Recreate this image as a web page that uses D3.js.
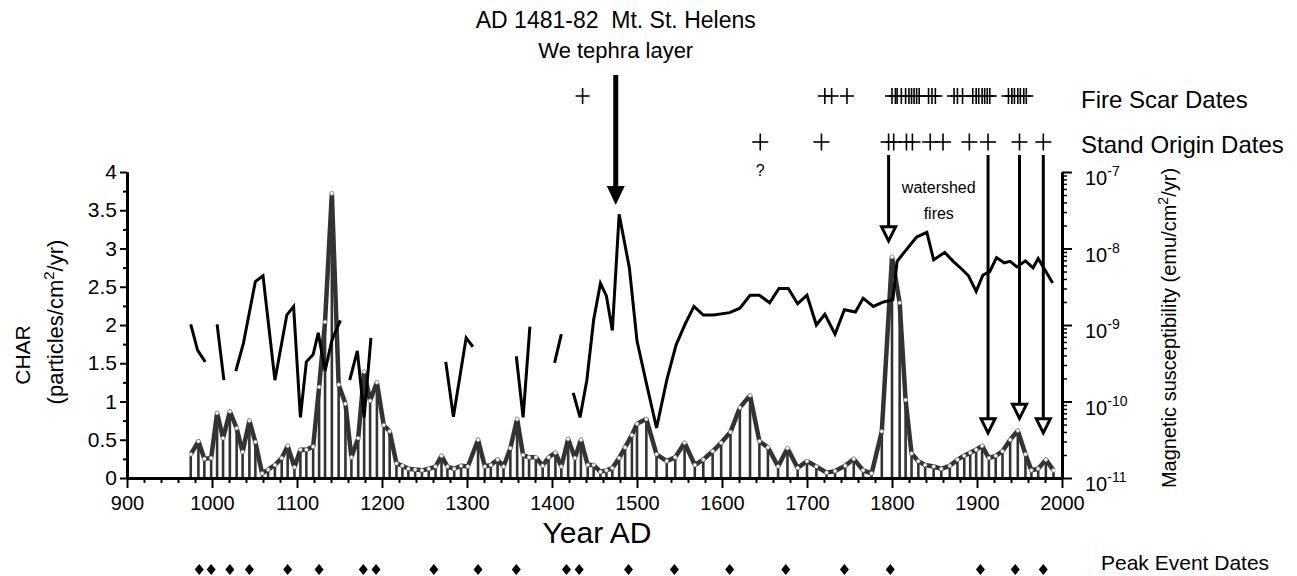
<!DOCTYPE html>
<html>
<head>
<meta charset="utf-8">
<script src="https://cdn.jsdelivr.net/npm/d3@7"></script>
<style>
body { margin: 0; background: #fff; }
text { font-family: "Liberation Sans", Arial, sans-serif; fill: #000; }
</style>
</head>
<body>
<script>
// charcoal accumulation (CHAR), particles/cm2/yr
var charYears = [975, 984, 991, 999, 1006, 1013, 1021, 1029, 1036, 1044, 1051, 1059, 1066, 1074, 1082, 1089, 1097, 1104, 1111, 1119,
	1126, 1133, 1141, 1149, 1157, 1164, 1172, 1179, 1186, 1194, 1202, 1209, 1217, 1224, 1231, 1239, 1247, 1255, 1263, 1270,
	1277, 1285, 1293, 1301, 1313, 1321, 1328, 1336, 1343, 1351, 1359, 1366, 1373, 1381, 1389, 1396, 1404, 1411, 1419, 1427,
	1434, 1442, 1449, 1457, 1464, 1471, 1479, 1486, 1494, 1500, 1511, 1523, 1535, 1545, 1556, 1568, 1578, 1589, 1599, 1610,
	1621, 1633, 1644, 1654, 1666, 1677, 1689, 1700, 1711, 1723, 1733, 1745, 1755, 1766, 1776, 1788, 1800, 1809, 1816, 1823,
	1831, 1839, 1849, 1858, 1868, 1877, 1885, 1892, 1899, 1906, 1914, 1922, 1930, 1939, 1948, 1957, 1964, 1972, 1981, 1990];
var charValues = [0.31, 0.48, 0.25, 0.26, 0.85, 0.52, 0.87, 0.65, 0.34, 0.75, 0.47, 0.06, 0.11, 0.17, 0.26, 0.42, 0.14, 0.37, 0.37, 0.41,
	1.19, 2.04, 3.72, 1.22, 0.97, 0.27, 0.52, 1.39, 1.01, 1.25, 0.69, 0.61, 0.19, 0.16, 0.12, 0.11, 0.10, 0.12, 0.15, 0.29,
	0.15, 0.12, 0.16, 0.15, 0.50, 0.15, 0.17, 0.24, 0.15, 0.39, 0.77, 0.30, 0.27, 0.27, 0.16, 0.27, 0.33, 0.15, 0.51, 0.26,
	0.50, 0.17, 0.17, 0.08, 0.10, 0.13, 0.26, 0.40, 0.56, 0.71, 0.77, 0.31, 0.22, 0.27, 0.46, 0.17, 0.24, 0.35, 0.46, 0.60,
	0.92, 1.08, 0.48, 0.40, 0.15, 0.39, 0.13, 0.22, 0.15, 0.07, 0.09, 0.16, 0.25, 0.10, 0.06, 0.61, 2.89, 2.29, 1.02, 0.32,
	0.22, 0.17, 0.15, 0.12, 0.16, 0.24, 0.29, 0.33, 0.37, 0.42, 0.26, 0.29, 0.35, 0.50, 0.62, 0.31, 0.10, 0.12, 0.24, 0.10];

// magnetic susceptibility, emu/cm2/yr (null = break in record)
var magYears = [975, 983, 992, 999, 1006, 1014, 1021, 1028, 1037, 1051, 1060, 1074, 1088, 1096, 1104, 1111, 1119, 1125, 1133, 1141, 1151,
	1156, 1162, 1171, 1179, 1187, 1230, 1275, 1284, 1299, 1307, 1330, 1358, 1366, 1374, 1390, 1403, 1411, 1418,
	1425, 1433, 1441, 1449, 1457, 1464, 1471, 1479, 1491, 1500, 1511, 1523, 1535, 1546, 1557, 1567, 1578, 1590, 1609, 1621,
	1633, 1644, 1656, 1667, 1678, 1689, 1700, 1711, 1721, 1733, 1744, 1757, 1766, 1778, 1790, 1801, 1806, 1815, 1829, 1841,
	1849, 1862, 1872, 1882, 1890, 1899, 1907, 1915, 1923, 1932, 1939, 1947, 1957, 1966, 1972, 1980, 1989];
var magValues = [1.02e-9, 4.7e-10, 3.3e-10, null, 1.02e-9, 1.9e-10, null, 2.5e-10, 5.8e-10, 3.7e-9, 4.4e-9, 1.9e-10, 1.35e-9, 1.75e-9, 6.2e-11, 3.3e-10, 4.1e-10, 7.9e-10, 2.5e-10, 6.3e-10, 1.15e-9,
	null, 1.9e-10, 4.6e-10, 6.2e-11, 6.8e-10, null, 3.3e-10, 6.3e-11, 6.8e-10, 5.2e-10, null, 3.9e-10, 6.2e-11, 9.5e-10, null, 3.2e-10, 7.6e-10, null,
	1.3e-10, 6.2e-11, 1.9e-10, 1.17e-9, 3.5e-9, 2.4e-9, 8.5e-10, 2.8e-8, 5.6e-9, 6.2e-10, 1.74e-10, 4.5e-11, 1.9e-10, 5.5e-10, 1.05e-9, 1.75e-9, 1.35e-9, 1.35e-9, 1.45e-9, 1.66e-9,
	2.45e-9, 2.45e-9, 1.95e-9, 3.0e-9, 3.0e-9, 1.9e-9, 2.45e-9, 1.0e-9, 1.38e-9, 7.6e-10, 1.58e-9, 1.48e-9, 2.24e-9, 1.75e-9, 2.0e-9, 2.14e-9, 6.8e-9, 9.1e-9, 1.41e-8, 1.62e-8,
	7.1e-9, 8.9e-9, 6.8e-9, 5.4e-9, 4.4e-9, 2.75e-9, 4.5e-9, 5.0e-9, 7.6e-9, 6.5e-9, 6.8e-9, 5.75e-9, 6.9e-9, 5.6e-9, 7.4e-9, 5.25e-9, 3.55e-9];

var fireScarYears = [1436, 1721, 1729, 1747, 1800, 1804, 1806, 1811, 1816, 1820, 1823, 1826, 1829, 1832, 1843, 1847, 1851,
	1873, 1877, 1883, 1895, 1899, 1902, 1906, 1909, 1912, 1915, 1937, 1941, 1944, 1948, 1951, 1955, 1958];
var standOriginYears = [1645, 1717, 1796, 1802, 1817, 1824, 1845, 1860, 1891, 1913, 1950, 1978];
var peakEventYears = [985, 999, 1021, 1044, 1089, 1126, 1178, 1193, 1261, 1313, 1358, 1417, 1432, 1490,
	1544, 1609, 1675, 1744, 1798, 1904, 1945, 1978];

// arrows: years and the CHAR level their heads point to
var arrowYears = [1796, 1913, 1950, 1978];
var arrowTips = [3.1, 0.59, 0.78, 0.59];
var tephraYear = 1475, tephraTip = 3.57;

var xTicks = d3.range(900, 2001, 100);
var yTicks = d3.range(0, 4.01, 0.5);
var magTicks = [1e-11, 1e-10, 1e-9, 1e-8, 1e-7];

var svg = d3.select("body").append("svg")
	.attr("width", 1297)
	.attr("height", 576);

var x = d3.scaleLinear().domain([900, 2000]).range([127, 1062]);
var y = d3.scaleLinear().domain([0, 4]).range([478, 172]);
var yMag = d3.scaleLog().domain([1e-11, 1e-7]).range([478, 172]);

// CHAR bars
svg.append("g").selectAll("line")
	.data(charYears)
	.enter().append("line")
	.attr("x1", d => x(d)).attr("x2", d => x(d))
	.attr("y1", y(0))
	.attr("y2", (d, i) => y(charValues[i]))
	.attr("stroke", "#333")
	.attr("stroke-width", 2.6);

var charData = d3.zip(charYears, charValues);
svg.append("path")
	.datum(charData)
	.attr("d", d3.line().x(d => x(d[0])).y(d => y(d[1])))
	.attr("fill", "none")
	.attr("stroke", "#333")
	.attr("stroke-width", 4.5)
	.attr("stroke-linejoin", "round");

svg.append("g").selectAll("circle")
	.data(charData)
	.enter().append("circle")
	.attr("cx", d => x(d[0]))
	.attr("cy", d => y(d[1]))
	.attr("r", 1.8)
	.attr("fill", "#fff")
	.attr("stroke", "#aaa")
	.attr("stroke-width", 0.7);

// magnetic susceptibility
svg.append("path")
	.datum(d3.zip(magYears, magValues))
	.attr("d", d3.line().defined(d => d[1] != null).x(d => x(d[0])).y(d => yMag(d[1])))
	.attr("fill", "none")
	.attr("stroke", "#000")
	.attr("stroke-width", 3);

// axes
function styleAxis(g, lw) {
	g.select(".domain").attr("stroke", "#000").attr("stroke-width", 3);
	g.selectAll(".tick line").attr("stroke", "#000").attr("stroke-width", lw);
	g.selectAll(".tick text").attr("font-size", 20).attr("font-family", "Liberation Sans, Arial, sans-serif").attr("fill", "#000");
}

svg.append("g")
	.attr("transform", "translate(0," + y(0) + ")")
	.call(d3.axisBottom(x).tickValues(d3.range(900, 2000, 20).filter(d => d % 100)).tickSize(5).tickSizeOuter(0).tickFormat(""))
	.call(g => styleAxis(g, 2));
svg.append("g")
	.attr("transform", "translate(0," + y(0) + ")")
	.call(d3.axisBottom(x).tickValues(xTicks).tickSize(10).tickSizeOuter(0).tickPadding(8).tickFormat(d3.format("d")))
	.call(g => styleAxis(g, 2));

svg.append("g")
	.attr("transform", "translate(" + x(900) + ",0)")
	.call(d3.axisLeft(y).tickValues(d3.range(0.25, 4, 0.5)).tickSize(4).tickSizeOuter(0).tickFormat(""))
	.call(g => styleAxis(g, 2));
svg.append("g")
	.attr("transform", "translate(" + x(900) + ",0)")
	.call(d3.axisLeft(y).tickValues(yTicks).tickSize(7).tickSizeOuter(0).tickPadding(3).tickFormat(d3.format("~g")))
	.call(g => styleAxis(g, 2))
	.call(g => g.selectAll(".tick text").attr("font-size", 21));

var magMinor = [];
[-11, -10, -9, -8].forEach(e => d3.range(2, 10).forEach(k => magMinor.push(k * Math.pow(10, e))));
svg.append("g")
	.attr("transform", "translate(" + x(2000) + ",0)")
	.call(d3.axisRight(yMag).tickValues(magMinor).tickSize(5).tickSizeOuter(0).tickFormat(""))
	.call(g => styleAxis(g, 1.5));
svg.append("g")
	.attr("transform", "translate(" + x(2000) + ",0)")
	.call(d3.axisRight(yMag).tickValues(magTicks).tickSize(10).tickSizeOuter(0).tickFormat(""))
	.call(g => styleAxis(g, 2));

var magLab = svg.append("g").selectAll("text")
	.data(magTicks)
	.enter().append("text")
	.attr("x", x(2000) + 23)
	.attr("y", d => yMag(d) + 13)
	.attr("font-size", 20);
magLab.append("tspan").text("10");
magLab.append("tspan").attr("dy", -9).attr("font-size", 14).text(d => Math.round(Math.log10(d)));

// axis titles
svg.append("text")
	.attr("x", 597).attr("y", 543)
	.attr("text-anchor", "middle")
	.attr("font-size", 30)
	.text("Year AD");

svg.append("text")
	.attr("transform", "translate(30,355) rotate(-90)")
	.attr("text-anchor", "middle")
	.attr("font-size", 21)
	.text("CHAR");
var charTitle = svg.append("text")
	.attr("transform", "translate(63,322) rotate(-90)")
	.attr("text-anchor", "middle")
	.attr("font-size", 22);
charTitle.append("tspan").text("(particles/cm");
charTitle.append("tspan").attr("dy", -9).attr("font-size", 15).text("2");
charTitle.append("tspan").attr("dy", 9).text("/yr)");

var magTitle = svg.append("text")
	.attr("transform", "translate(1176,328) rotate(-90)")
	.attr("text-anchor", "middle")
	.attr("font-size", 20);
magTitle.append("tspan").text("Magnetic susceptibility (emu/cm");
magTitle.append("tspan").attr("dy", -8).attr("font-size", 14).text("2");
magTitle.append("tspan").attr("dy", 8).text("/yr)");

// tephra annotation
svg.append("text").attr("x", x(tephraYear)).attr("y", 28).attr("text-anchor", "middle").attr("font-size", 23)
	.text("AD 1481-82\u00a0\u00a0Mt. St. Helens");
svg.append("text").attr("x", x(tephraYear)).attr("y", 58).attr("text-anchor", "middle").attr("font-size", 22)
	.text("We tephra layer");
svg.append("line")
	.attr("x1", x(tephraYear)).attr("x2", x(tephraYear))
	.attr("y1", 75).attr("y2", y(tephraTip) - 14)
	.attr("stroke", "#000").attr("stroke-width", 5);
svg.append("path")
	.attr("d", "M" + (x(tephraYear) - 9) + "," + (y(tephraTip) - 19) + "h18l-9," + 19 + "z")
	.attr("fill", "#000");

// fire scar and stand origin dates
function plus(g, years, cy, h, w) {
	var p = g.selectAll("g").data(years).enter().append("g")
		.attr("transform", d => "translate(" + x(d) + "," + cy + ")");
	p.append("line").attr("x1", 0).attr("x2", 0).attr("y1", -h).attr("y2", h);
	p.append("line").attr("x1", -w).attr("x2", w).attr("y1", 0).attr("y2", 0);
	g.selectAll("line").attr("stroke", "#000").attr("stroke-width", 1.6);
}
plus(svg.append("g"), fireScarYears, 96, 8, 7);
plus(svg.append("g"), standOriginYears, 142, 8.5, 8);

svg.append("text").attr("x", x(1645)).attr("y", 176).attr("text-anchor", "middle").attr("font-size", 16).text("?");

svg.append("text").attr("x", 1081).attr("y", 108).attr("font-size", 24).text("Fire Scar Dates");
svg.append("text").attr("x", 1081).attr("y", 153).attr("font-size", 24).text("Stand Origin Dates");

// stand origin arrows
var arr = svg.append("g").selectAll("g")
	.data(arrowYears)
	.enter().append("g");
arr.append("line")
	.attr("x1", d => x(d)).attr("x2", d => x(d))
	.attr("y1", 155)
	.attr("y2", (d, i) => y(arrowTips[i]) - 14)
	.attr("stroke", "#000").attr("stroke-width", 3);
arr.append("path")
	.attr("d", (d, i) => "M" + (x(d) - 7) + "," + (y(arrowTips[i]) - 14) + "h14l-7,14z")
	.attr("fill", "#fff").attr("stroke", "#000").attr("stroke-width", 3);

svg.append("text").attr("x", x(1855)).attr("y", 193).attr("text-anchor", "middle").attr("font-size", 16).text("watershed");
svg.append("text").attr("x", x(1855)).attr("y", 219).attr("text-anchor", "middle").attr("font-size", 16).text("fires");

// peak event dates
svg.append("g").selectAll("path")
	.data(peakEventYears)
	.enter().append("path")
	.attr("d", d => "M" + x(d) + ",564l4.5,5.5l-4.5,5.5l-4.5,-5.5z")
	.attr("fill", "#000");
svg.append("text").attr("x", 1101).attr("y", 570).attr("font-size", 21).text("Peak Event Dates");
</script>
</body>
</html>
